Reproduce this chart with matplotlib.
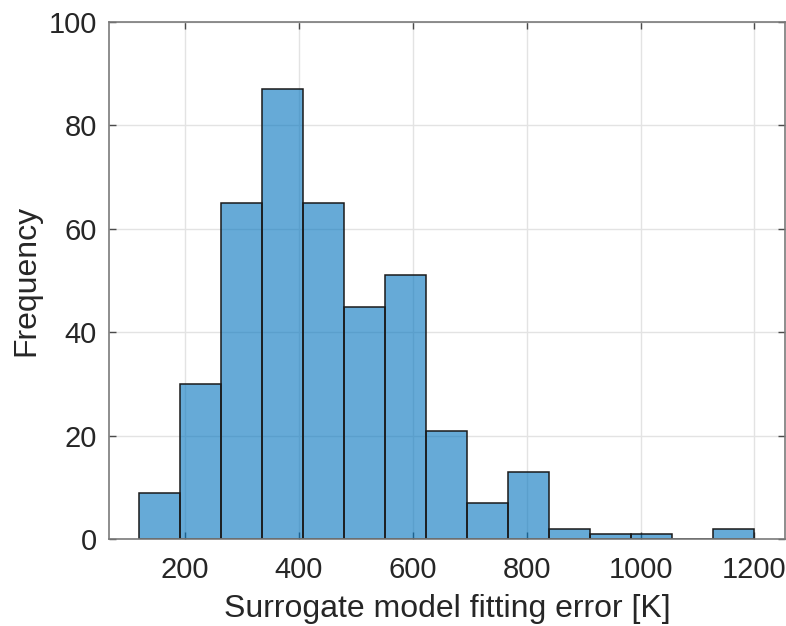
import matplotlib
matplotlib.use("Agg")
import matplotlib.pyplot as plt
import numpy as np

# Histogram bins (equal width) and the count in each bin
bin_start = 120
bin_width = 72
counts = [9, 30, 65, 87, 65, 45, 51, 21, 7, 13, 2, 1, 1, 0, 2]
x_ticks = [200, 400, 600, 800, 1000, 1200]
y_ticks = [0, 20, 40, 60, 80, 100]

edges = bin_start + bin_width * np.arange(len(counts) + 1)

plt.rcParams['font.family'] = ['Liberation Sans', 'DejaVu Sans']

fig = plt.figure(figsize=(7.86, 6.26), dpi=100)
W, H = 786, 626
left, right, top, bottom = 109.3, 784.7, 22.0, 539.3
ax = fig.add_axes([left / W, 1 - bottom / H, (right - left) / W, (bottom - top) / H])

ax.bar(edges[:-1], counts, width=np.diff(edges), align='edge',
       color='#0072BD', alpha=0.6, edgecolor='none', zorder=2)
ax.bar(edges[:-1], counts, width=np.diff(edges), align='edge',
       facecolor='none', edgecolor='#1a1a1a', linewidth=1.1, zorder=3)

ax.set_xlim(68, 1253)
ax.set_ylim(0, 100)
ax.set_xticks(x_ticks)
ax.set_yticks(y_ticks)

ax.set_axisbelow(True)
ax.grid(True, color='#e3e3e3', linewidth=1.0, zorder=0)

for s in ax.spines.values():
    s.set_color('#7a7a7a')
    s.set_linewidth(1.2)
    s.set_zorder(4)

ax.tick_params(direction='in', length=5, width=1.0, color='#4a4a4a',
               top=True, right=True, labelsize=21, labelcolor='#262626')
ax.tick_params(axis='x', pad=12)
ax.tick_params(axis='y', pad=9)

ax.set_xlabel('Surrogate model fitting error [K]', fontsize=23, color='#262626', labelpad=7)
ax.set_ylabel('Frequency', fontsize=23, color='#262626', labelpad=5)

fig.savefig('out.png', dpi=100)
